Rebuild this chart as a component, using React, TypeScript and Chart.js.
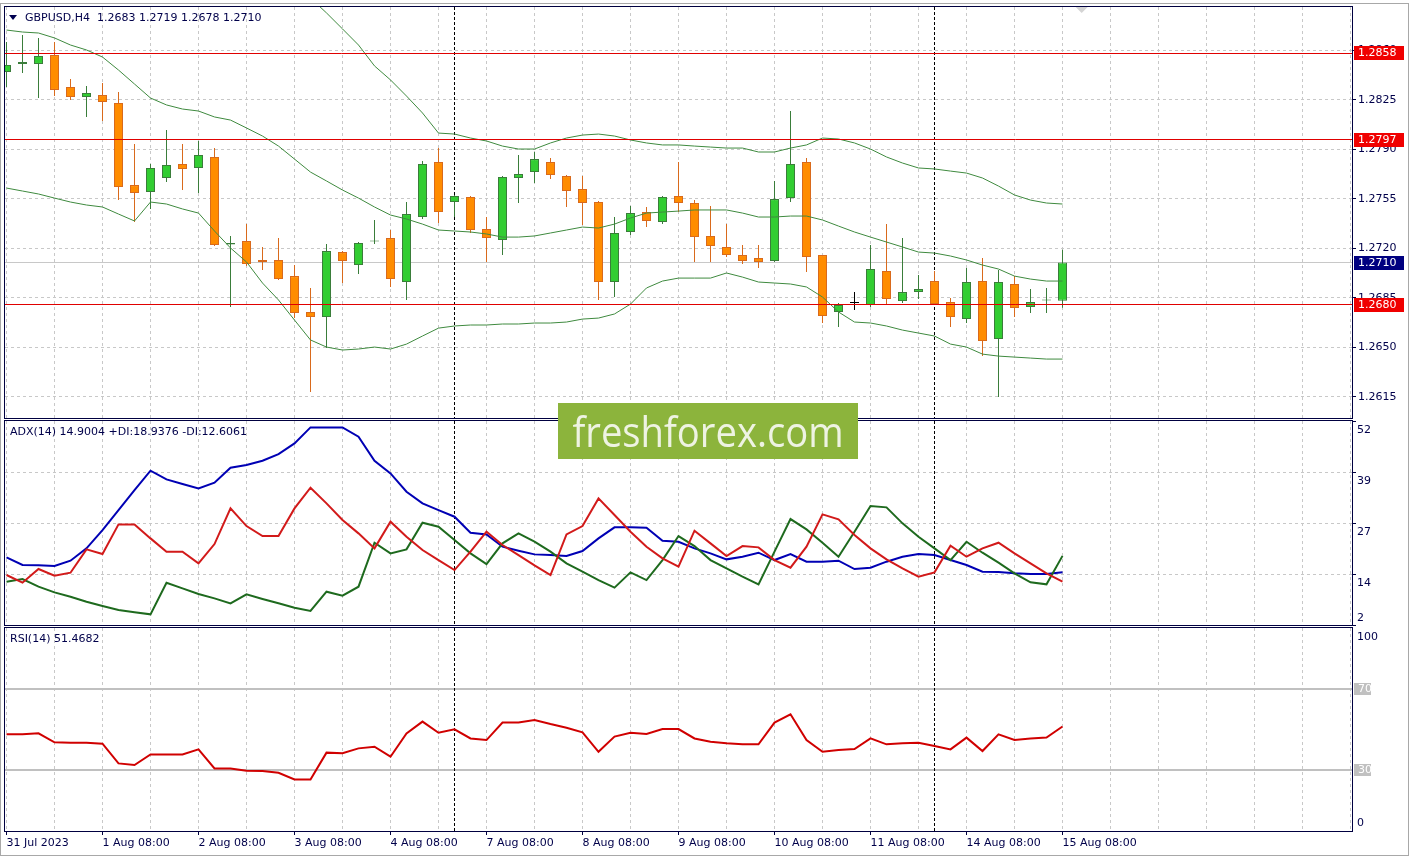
import React, { useEffect, useRef } from 'react';
import { Chart, registerables } from 'chart.js';

Chart.register(...registerables);

// ---------------- data ----------------
const symbolTitle = 'GBPUSD,H4  1.2683 1.2719 1.2678 1.2710';
const adxTitle = 'ADX(14) 14.9004 +DI:18.9376 -DI:12.6061';
const rsiTitle = 'RSI(14) 51.4682';

const opens = [1.28448, 1.28505, 1.28505, 1.28568, 1.28342, 1.28271, 1.28285, 1.28229, 1.27648, 1.27599,
  1.27698, 1.27797, 1.27769, 1.27847, 1.27228, 1.27252, 1.27118, 1.27118, 1.27004, 1.26750,
  1.26714, 1.27174, 1.27082, 1.27249, 1.27273, 1.26962, 1.27422, 1.27811, 1.27528, 1.27564,
  1.27337, 1.27259, 1.27698, 1.27740, 1.27811, 1.27712, 1.27620, 1.27528, 1.26962, 1.27316,
  1.27457, 1.27387, 1.27571, 1.27521, 1.27288, 1.27210, 1.27153, 1.27132, 1.27111, 1.27556,
  1.27811, 1.27153, 1.26750, 1.26813, 1.26799, 1.27040, 1.26827, 1.26891, 1.26969, 1.26820,
  1.26700, 1.26969, 1.26559, 1.26948, 1.26785, 1.26831, 1.2683];
const highs = [1.28660, 1.28710, 1.28689, 1.28660, 1.28399, 1.28349, 1.28370, 1.28307, 1.27939, 1.27797,
  1.28038, 1.27939, 1.27960, 1.27910, 1.27288, 1.27372, 1.27210, 1.27273, 1.27082, 1.26920,
  1.27231, 1.27181, 1.27245, 1.27401, 1.27330, 1.27528, 1.27818, 1.27910, 1.27578, 1.27571,
  1.27422, 1.27712, 1.27861, 1.27882, 1.27840, 1.27719, 1.27712, 1.27535, 1.27422, 1.27500,
  1.27493, 1.27571, 1.27811, 1.27542, 1.27500, 1.27372, 1.27224, 1.27224, 1.27677, 1.28172,
  1.27840, 1.27153, 1.26813, 1.26891, 1.27224, 1.27372, 1.27273, 1.27012, 1.27040, 1.26849,
  1.27061, 1.27132, 1.27047, 1.27004, 1.26912, 1.26920, 1.2719];
const lows = [1.28342, 1.28441, 1.28264, 1.28278, 1.28250, 1.28130, 1.28101, 1.27542, 1.27387, 1.27479,
  1.27670, 1.27613, 1.27592, 1.27217, 1.26785, 1.27075, 1.27047, 1.26976, 1.26707, 1.26184,
  1.26495, 1.26955, 1.27019, 1.27231, 1.26927, 1.26835, 1.27408, 1.27380, 1.27422, 1.27309,
  1.27104, 1.27153, 1.27521, 1.27663, 1.27691, 1.27493, 1.27365, 1.26835, 1.26856, 1.27295,
  1.27351, 1.27372, 1.27457, 1.27104, 1.27104, 1.27139, 1.27089, 1.27061, 1.27104, 1.27528,
  1.27033, 1.26672, 1.26644, 1.26764, 1.26785, 1.26799, 1.26813, 1.26842, 1.26799, 1.26644,
  1.26672, 1.26438, 1.26148, 1.26714, 1.26743, 1.26743, 1.2678];
const closes = [1.28498, 1.28519, 1.28561, 1.28321, 1.28271, 1.28300, 1.28236, 1.27634, 1.27592, 1.27769,
  1.27790, 1.27762, 1.27861, 1.27224, 1.27238, 1.27089, 1.27104, 1.26983, 1.26743, 1.26714,
  1.27181, 1.27111, 1.27238, 1.27256, 1.26983, 1.27443, 1.27797, 1.27457, 1.27571, 1.27330,
  1.27273, 1.27705, 1.27726, 1.27832, 1.27719, 1.27606, 1.27521, 1.26962, 1.27309, 1.27450,
  1.27394, 1.27564, 1.27521, 1.27280, 1.27217, 1.27153, 1.27111, 1.27104, 1.27549, 1.27797,
  1.27139, 1.26721, 1.26799, 1.26813, 1.27054, 1.26842, 1.26891, 1.26912, 1.26806, 1.26714,
  1.26962, 1.26544, 1.26962, 1.26778, 1.26820, 1.26838, 1.2710];

const bbUpper = [1.29864, 1.29857, 1.29864, 1.29821, 1.29750, 1.29701, 1.29616, 1.29481, 1.29333, 1.29170,
  1.29099, 1.29064, 1.29043, 1.29064, 1.29014, 1.29014, 1.29028, 1.29043, 1.29028, 1.28972,
  1.28866, 1.28753, 1.28639, 1.28491, 1.28392, 1.28278, 1.28158, 1.28016, 1.28009, 1.27981,
  1.27960, 1.27924, 1.27903, 1.27903, 1.27946, 1.27981, 1.28002, 1.28009, 1.27995, 1.27967,
  1.27946, 1.27932, 1.27932, 1.27924, 1.27917, 1.27910, 1.27910, 1.27882, 1.27882, 1.27910,
  1.27932, 1.27981, 1.27974, 1.27946, 1.27903, 1.27847, 1.27804, 1.27769, 1.27762, 1.27747,
  1.27733, 1.27698, 1.27641, 1.27578, 1.27542, 1.27521, 1.27514];
const bbMiddle = [1.28745, 1.28731, 1.28724, 1.28689, 1.28639, 1.28604, 1.28554, 1.28462, 1.28363, 1.28264,
  1.28215, 1.28186, 1.28172, 1.28130, 1.28108, 1.28052, 1.27995, 1.27924, 1.27832, 1.27740,
  1.27677, 1.27613, 1.27556, 1.27493, 1.27436, 1.27408, 1.27372, 1.27330, 1.27323, 1.27316,
  1.27302, 1.27280, 1.27280, 1.27288, 1.27309, 1.27330, 1.27351, 1.27344, 1.27372, 1.27415,
  1.27450, 1.27457, 1.27464, 1.27472, 1.27472, 1.27472, 1.27450, 1.27422, 1.27422, 1.27429,
  1.27429, 1.27401, 1.27358, 1.27316, 1.27280, 1.27245, 1.27210, 1.27174, 1.27167, 1.27146,
  1.27118, 1.27082, 1.27054, 1.27004, 1.26983, 1.26969, 1.26969];
const bbLower = [1.27627, 1.27606, 1.27585, 1.27556, 1.27528, 1.27507, 1.27493, 1.27443, 1.27394, 1.27528,
  1.27514, 1.27479, 1.27450, 1.27323, 1.27203, 1.27104, 1.26955, 1.26835, 1.26693, 1.26552,
  1.26502, 1.26481, 1.26488, 1.26502, 1.26488, 1.26523, 1.26580, 1.26636, 1.26651, 1.26658,
  1.26658, 1.26665, 1.26665, 1.26672, 1.26672, 1.26679, 1.26700, 1.26707, 1.26736, 1.26806,
  1.26920, 1.26969, 1.26990, 1.26990, 1.26990, 1.27026, 1.26997, 1.26962, 1.26955, 1.26948,
  1.26927, 1.26856, 1.26750, 1.26679, 1.26672, 1.26651, 1.26622, 1.26601, 1.26580, 1.26523,
  1.26502, 1.26452, 1.26438, 1.26431, 1.26424, 1.26417, 1.26417];

const adxMain = [18.57, 16.70, 16.62, 16.45, 17.76, 20.78, 25.27, 30.17, 35.07, 39.81,
  37.69, 36.54, 35.48, 36.87, 40.55, 41.20, 42.26, 43.90, 46.51, 50.43,
  50.43, 50.43, 48.14, 42.26, 39.16, 34.67, 31.81, 30.17, 28.54, 24.62,
  24.21, 21.19, 20.21, 19.31, 19.15, 18.90, 20.13, 23.23, 25.93, 25.93,
  25.85, 22.66, 22.41, 20.78, 19.56, 18.09, 18.74, 19.72, 17.92, 19.39,
  17.52, 17.52, 17.76, 15.72, 16.04, 17.52, 18.74, 19.39, 19.15, 17.92,
  16.70, 15.07, 14.98, 14.66, 14.49, 14.49, 14.90];
const plusDI = [12.61, 13.27, 11.39, 10.00, 8.94, 7.71, 6.65, 5.67, 5.10, 4.61,
  12.37, 10.98, 9.59, 8.53, 7.31, 9.51, 8.37, 7.31, 6.25, 5.43,
  10.17, 9.19, 11.39, 22.17, 19.56, 20.54, 27.07, 26.09, 22.82, 19.56,
  16.94, 22.01, 24.46, 22.41, 19.97, 17.11, 15.07, 13.02, 11.15, 14.90,
  13.02, 17.92, 23.80, 21.35, 17.92, 15.88, 13.84, 11.96, 19.97, 27.97,
  25.44, 22.17, 18.74, 24.87, 31.15, 30.83, 26.91, 23.64, 20.78, 17.92,
  22.41, 19.72, 17.27, 14.66, 12.45, 11.96, 18.94];
const minusDI = [14.25, 12.37, 15.72, 14.09, 14.82, 20.54, 19.40, 26.66, 26.66, 23.23,
  19.97, 19.97, 17.11, 21.84, 30.58, 26.25, 23.80, 23.80, 30.58, 35.65,
  31.81, 27.73, 24.46, 20.78, 27.32, 23.64, 20.37, 17.92, 15.47, 19.97,
  24.87, 21.60, 19.15, 16.60, 14.25, 24.21, 26.25, 33.03, 28.95, 24.87,
  21.19, 18.33, 16.29, 25.11, 22.01, 18.90, 21.35, 21.03, 17.92, 16.04,
  21.19, 29.11, 27.89, 24.05, 20.78, 18.09, 15.88, 13.84, 14.90, 21.44,
  18.74, 20.78, 22.17, 19.56, 17.11, 14.66, 12.61];

const rsiValues = [47.6, 47.6, 48.1, 43.7, 43.5, 43.5, 43.0, 33.3, 32.5, 37.7,
  37.7, 37.7, 40.2, 30.8, 30.8, 29.7, 29.5, 28.7, 25.4, 25.4,
  38.6, 38.3, 40.7, 41.5, 36.6, 48.1, 53.9, 48.4, 50.1, 45.6,
  44.8, 53.4, 53.4, 54.7, 52.7, 50.9, 48.6, 39.0, 46.5, 48.4,
  47.8, 50.2, 50.2, 45.6, 44.0, 43.2, 42.7, 42.7, 53.4, 57.5,
  44.8, 39.0, 39.9, 40.4, 45.6, 42.7, 43.2, 43.5, 41.9, 40.2,
  46.0, 39.4, 47.6, 44.8, 45.6, 46.0, 51.5];

const priceTicks = [1.2615, 1.2650, 1.2685, 1.2720, 1.2755, 1.2790, 1.2825, 1.2860];
const levelPrices = [1.2858, 1.2797, 1.2680];
const lastPrice = 1.2710;
const adxTicks = [2, 14.5, 27, 39.5, 52];
const adxTickLabels = ['2', '14', '27', '39', '52'];
const rsiLevels = [70, 30];
const rsiTickLabels = ['100', '0'];
const separatorBars = [28, 58];
const dateTickBars = [0, 6, 12, 18, 24, 30, 36, 42, 48, 54, 60, 66];
const dateTickLabels = ['31 Jul 2023', '1 Aug 08:00', '2 Aug 08:00', '3 Aug 08:00', '4 Aug 08:00', '7 Aug 08:00',
  '8 Aug 08:00', '9 Aug 08:00', '10 Aug 08:00', '11 Aug 08:00', '14 Aug 08:00', '15 Aug 08:00'];

// ---------------- style ----------------
const FAMILY = '"DejaVu Sans", "Liberation Sans", sans-serif';
const CFONT = '11px "DejaVu Sans", sans-serif';
const TXT = '#00004a';
const AXIS = '#000040';
const GRID = '#c8c8c8';
const BULL_FILL = '#32cd32';
const BULL_LINE = '#3a7d3a';
const BEAR_FILL = '#ff8c00';
const BEAR_LINE = '#d96a1c';
const BB_COLOR = '#3f8a3f';
const LEVEL_COLOR = '#e00000';
const X_MIN = -0.09375;
const X_MAX = 84.09375;
const gridBars = Array.from({ length: 29 }, (_, i) => i * 3);
const AXIS_W = 59;

function xScale(showLabels: boolean): any {
  return {
    type: 'linear',
    min: X_MIN,
    max: X_MAX,
    offset: false,
    afterBuildTicks: (axis: any) => {
      axis.ticks = gridBars.map((v) => ({ value: v }));
    },
    afterFit: (axis: any) => {
      axis.height = showLabels ? 28 : 0;
      axis.paddingLeft = 0;
      axis.paddingRight = 0;
    },
    grid: {
      offset: false,
      color: GRID,
      lineWidth: 1,
      drawTicks: showLabels,
      tickLength: 4,
      tickColor: (c: any) =>
        c.tick && dateTickBars.indexOf(c.tick.value) >= 0 ? AXIS : 'rgba(0,0,0,0)',
    },
    border: { display: false, dash: [3, 3] },
    ticks: {
      display: showLabels,
      autoSkip: false,
      maxRotation: 0,
      minRotation: 0,
      align: 'start',
      padding: 2,
      color: TXT,
      font: { family: FAMILY, size: 11 },
      callback: (v: any) => {
        const i = dateTickBars.indexOf(Number(v));
        return i >= 0 ? dateTickLabels[i] : '';
      },
    },
  };
}

function yFit(axis: any) {
  axis.width = AXIS_W;
  axis.paddingTop = 0;
  axis.paddingBottom = 0;
}

function hline(ctx: CanvasRenderingContext2D, area: any, y: number, color: string, width: number, dash: number[]) {
  ctx.save();
  ctx.strokeStyle = color;
  ctx.lineWidth = width;
  ctx.setLineDash(dash);
  const py = width % 2 === 1 ? Math.floor(y) + 0.5 : Math.round(y);
  ctx.beginPath();
  ctx.moveTo(area.left, py);
  ctx.lineTo(area.right, py);
  ctx.stroke();
  ctx.restore();
}

function separators(chart: any) {
  const { ctx, chartArea } = chart;
  separatorBars.forEach((k) => {
    const x = Math.floor(chart.scales.x.getPixelForValue(k)) + 0.5;
    ctx.save();
    ctx.strokeStyle = '#000000';
    ctx.lineWidth = 1;
    ctx.setLineDash([3, 2]);
    ctx.beginPath();
    ctx.moveTo(x, chartArea.top);
    ctx.lineTo(x, chartArea.bottom);
    ctx.stroke();
    ctx.restore();
  });
}

function frame(chart: any) {
  const { ctx, chartArea: a } = chart;
  ctx.save();
  ctx.strokeStyle = AXIS;
  ctx.lineWidth = 1;
  ctx.setLineDash([]);
  ctx.strokeRect(a.left - 0.5, a.top - 0.5, a.right - a.left + 1, a.bottom - a.top + 1);
  ctx.restore();
}

function labelBox(ctx: CanvasRenderingContext2D, x: number, y: number, w: number, h: number, bg: string, fg: string, text: string) {
  ctx.save();
  ctx.fillStyle = bg;
  ctx.fillRect(x, Math.round(y - h / 2), w, h);
  ctx.fillStyle = fg;
  ctx.font = CFONT;
  ctx.textAlign = 'left';
  ctx.textBaseline = 'middle';
  ctx.fillText(text, x + 4, Math.round(y) + 0.5);
  ctx.restore();
}

function axisText(ctx: CanvasRenderingContext2D, x: number, y: number, text: string) {
  ctx.save();
  ctx.fillStyle = TXT;
  ctx.font = CFONT;
  ctx.textAlign = 'left';
  ctx.textBaseline = 'middle';
  ctx.fillText(text, x, y);
  ctx.restore();
}

const mainExtras = {
  id: 'mainExtras',
  beforeDatasetsDraw(chart: any) {
    const { ctx, chartArea, scales } = chart;
    hline(ctx, chartArea, scales.y.getPixelForValue(lastPrice), '#c8c8c8', 1, []);
    separators(chart);
  },
  afterDatasetsDraw(chart: any) {
    const { ctx, chartArea, scales } = chart;
    levelPrices.forEach((p) => hline(ctx, chartArea, scales.y.getPixelForValue(p), LEVEL_COLOR, 1, []));
  },
  afterDraw(chart: any) {
    const { ctx, chartArea, scales } = chart;
    frame(chart);
    const x = chartArea.right + 2;
    levelPrices.forEach((p) => labelBox(ctx, x, scales.y.getPixelForValue(p), 50, 14, '#f00000', '#ffffff', p.toFixed(4)));
    labelBox(ctx, x, scales.y.getPixelForValue(lastPrice), 50, 14, '#000080', '#ffffff', lastPrice.toFixed(4));
    // chart shift marker
    const sx = chart.scales.x.getPixelForValue(67.2);
    ctx.save();
    ctx.fillStyle = '#d4d4d4';
    ctx.beginPath();
    ctx.moveTo(sx - 6, chartArea.top);
    ctx.lineTo(sx + 6, chartArea.top);
    ctx.lineTo(sx, chartArea.top + 6);
    ctx.closePath();
    ctx.fill();
    ctx.restore();
  },
};

const adxExtras = {
  id: 'adxExtras',
  beforeDatasetsDraw(chart: any) {
    separators(chart);
  },
  afterDraw(chart: any) {
    const { ctx, chartArea, scales } = chart;
    frame(chart);
    adxTicks.forEach((v, i) => {
      const y = Math.min(scales.y.getPixelForValue(v) + 9, chartArea.bottom - 7);
      axisText(ctx, chartArea.right + 5, y, adxTickLabels[i]);
    });
  },
};

const rsiExtras = {
  id: 'rsiExtras',
  beforeDatasetsDraw(chart: any) {
    const { ctx, chartArea, scales } = chart;
    rsiLevels.forEach((v) => hline(ctx, chartArea, scales.y.getPixelForValue(v), '#c0c0c0', 2, []));
    separators(chart);
  },
  afterDraw(chart: any) {
    const { ctx, chartArea, scales } = chart;
    frame(chart);
    axisText(ctx, chartArea.right + 5, chartArea.top + 9, rsiTickLabels[0]);
    axisText(ctx, chartArea.right + 5, chartArea.bottom - 8, rsiTickLabels[1]);
    rsiLevels.forEach((v) =>
      labelBox(ctx, chartArea.right + 2, scales.y.getPixelForValue(v), 17, 12, '#c0c0c0', '#ffffff', String(v)),
    );
  },
};

const baseOptions = {
  responsive: false,
  maintainAspectRatio: false,
  animation: false,
  devicePixelRatio: 1,
  events: [],
  plugins: { legend: { display: false }, tooltip: { enabled: false } },
};

export default function App() {
  const mainRef = useRef<HTMLCanvasElement>(null);
  const adxRef = useRef<HTMLCanvasElement>(null);
  const rsiRef = useRef<HTMLCanvasElement>(null);

  useEffect(() => {
    const dir = opens.map((o, i) => (closes[i] > o ? 1 : closes[i] < o ? -1 : 0));
    const fills = dir.map((d) => (d > 0 ? BULL_FILL : d < 0 ? BEAR_FILL : '#000000'));
    const lines = dir.map((d) => (d > 0 ? BULL_LINE : d < 0 ? BEAR_LINE : '#000000'));
    const pts = (arr: number[]) => arr.map((v, i) => ({ x: i, y: v }));

    const main = new Chart(mainRef.current as HTMLCanvasElement, {
      type: 'bar',
      data: {
        datasets: [
          { type: 'line', label: 'BB upper', data: pts(bbUpper), borderColor: BB_COLOR, borderWidth: 1, pointRadius: 0, fill: false, order: 0 },
          { type: 'line', label: 'BB middle', data: pts(bbMiddle), borderColor: BB_COLOR, borderWidth: 1, pointRadius: 0, fill: false, order: 0 },
          { type: 'line', label: 'BB lower', data: pts(bbLower), borderColor: BB_COLOR, borderWidth: 1, pointRadius: 0, fill: false, order: 0 },
          {
            type: 'bar', label: 'wicks', data: lows.map((l, i) => ({ x: i, y: [l, highs[i]] })),
            backgroundColor: lines, borderWidth: 0, barThickness: 1, grouped: false, inflateAmount: 0, order: 2,
          },
          {
            type: 'bar', label: 'bodies', data: opens.map((o, i) => ({ x: i, y: [o, closes[i]] })),
            backgroundColor: fills, borderColor: lines, borderWidth: 1, borderSkipped: false,
            barThickness: 9, grouped: false, minBarLength: 1, inflateAmount: 0, order: 1,
          },
        ] as any,
      },
      options: {
        ...baseOptions,
        layout: { padding: { left: 5, right: 0, top: 7, bottom: 2 } },
        scales: {
          x: xScale(false),
          y: {
            type: 'linear', position: 'right', min: 1.26, max: 1.28908, beginAtZero: false,
            afterBuildTicks: (axis: any) => { axis.ticks = priceTicks.map((v) => ({ value: v })); },
            afterFit: yFit,
            grid: { color: GRID, drawTicks: true, tickLength: 4, tickColor: AXIS },
            border: { display: false, dash: [3, 3] },
            ticks: { color: TXT, padding: 2, font: { family: FAMILY, size: 11 }, callback: (v: any) => Number(v).toFixed(4) },
          },
        },
      } as any,
      plugins: [mainExtras],
    });

    const adx = new Chart(adxRef.current as HTMLCanvasElement, {
      type: 'line',
      data: {
        datasets: [
          { label: '-DI', data: pts(minusDI), borderColor: '#d21a1a', borderWidth: 2, pointRadius: 0, fill: false },
          { label: '+DI', data: pts(plusDI), borderColor: '#1e6a1e', borderWidth: 2, pointRadius: 0, fill: false },
          { label: 'ADX', data: pts(adxMain), borderColor: '#0000b4', borderWidth: 2, pointRadius: 0, fill: false },
        ],
      },
      options: {
        ...baseOptions,
        layout: { padding: { left: 5, right: 0, top: 1, bottom: 2 } },
        scales: {
          x: xScale(false),
          y: {
            type: 'linear', position: 'right', min: 2, max: 52,
            afterBuildTicks: (axis: any) => { axis.ticks = adxTicks.map((v) => ({ value: v })); },
            afterFit: yFit,
            grid: {
              color: (c: any) => (c.tick && (c.tick.value === 2 || c.tick.value === 52) ? 'rgba(0,0,0,0)' : GRID),
              drawTicks: true, tickLength: 4, tickColor: AXIS,
            },
            border: { display: false, dash: [3, 3] },
            ticks: { display: false },
          },
        },
      } as any,
      plugins: [adxExtras],
    });

    const rsi = new Chart(rsiRef.current as HTMLCanvasElement, {
      type: 'line',
      data: {
        datasets: [
          { label: 'RSI', data: pts(rsiValues), borderColor: '#d00000', borderWidth: 2, pointRadius: 0, fill: false },
        ],
      },
      options: {
        ...baseOptions,
        layout: { padding: { left: 5, right: 0, top: 1, bottom: 0 } },
        scales: {
          x: xScale(true),
          y: {
            type: 'linear', position: 'right', min: 0, max: 100,
            afterFit: yFit,
            grid: { drawOnChartArea: false, drawTicks: false },
            border: { display: false },
            ticks: { display: false },
          },
        },
      } as any,
      plugins: [rsiExtras],
    });

    return () => {
      main.destroy();
      adx.destroy();
      rsi.destroy();
    };
  }, []);

  const textStyle: React.CSSProperties = {
    position: 'absolute', font: `11px ${FAMILY}`, color: TXT, lineHeight: '13px', whiteSpace: 'pre',
  };

  return (
    <div style={{ position: 'fixed', left: 0, top: 0, width: 1411, height: 859, background: '#ffffff', overflow: 'hidden' }}>
      <canvas ref={mainRef} width={1411} height={420} style={{ position: 'absolute', left: 0, top: 0 }} />
      <canvas ref={adxRef} width={1411} height={207} style={{ position: 'absolute', left: 0, top: 420 }} />
      <canvas ref={rsiRef} width={1411} height={232} style={{ position: 'absolute', left: 0, top: 627 }} />
      <div style={{ position: 'absolute', left: 9, top: 15, width: 0, height: 0, borderLeft: '4px solid transparent', borderRight: '4px solid transparent', borderTop: '5px solid #000050' }} />
      <div style={{ ...textStyle, left: 25, top: 11 }}>{symbolTitle}</div>
      <div style={{ ...textStyle, left: 10, top: 425 }}>{adxTitle}</div>
      <div style={{ ...textStyle, left: 10, top: 632 }}>{rsiTitle}</div>
      <div style={{
        position: 'absolute', left: 558, top: 403, width: 300, height: 56, background: '#8cb43c',
        display: 'flex', alignItems: 'center', justifyContent: 'center',
      }}>
        <span style={{ font: '42px "Open Sans", sans-serif', color: '#eef3e2', display: 'inline-block', transform: 'scaleX(0.91)', lineHeight: '56px', whiteSpace: 'nowrap' }}>
          freshforex.com
        </span>
      </div>
      <div style={{ position: 'absolute', left: 0, top: 3, width: 1407, height: 851, border: '1px solid #a8a8a8', pointerEvents: 'none' }} />
    </div>
  );
}
